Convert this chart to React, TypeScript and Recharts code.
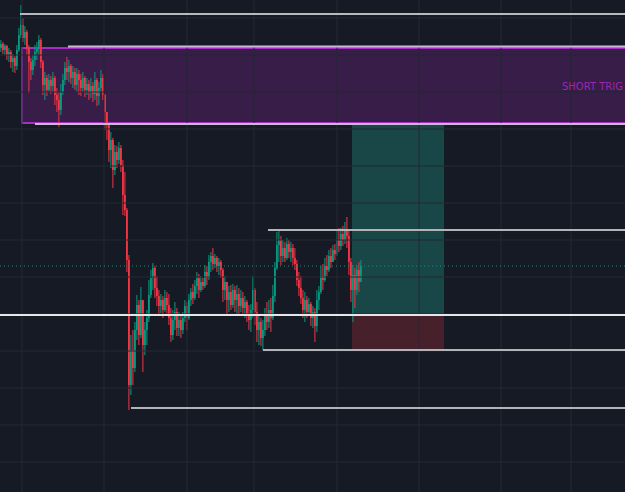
import React from "react";
import { ComposedChart, Bar, XAxis, YAxis, ReferenceLine, ReferenceArea, ReferenceDot } from "recharts";

const BG = "#161a25";
const UP = "#089981";
const DOWN = "#f23645";

const firstOpen = 452;
const closes = [
  456, 450, 454, 445, 448, 438, 442, 434, 450, 465, 475, 462, 468, 452, 438, 430, 440, 448, 452, 460,
  438, 415, 422, 410, 420, 414, 422, 405, 400, 390, 408, 420, 432, 428, 434, 422, 428, 415, 426, 420,
  412, 422, 410, 416, 408, 414, 406, 420, 404, 412, 422, 405, 388, 375, 350, 360, 330, 348, 340, 352,
  335, 305, 290, 240, 115, 150, 132, 170, 195, 165, 200, 155, 170, 182, 205, 222, 232, 212, 204, 194,
  200, 190, 202, 195, 182, 165, 180, 188, 172, 180, 170, 182, 194, 182, 200, 208, 202, 214, 222, 210,
  218, 214, 228, 222, 238, 244, 236, 242, 234, 238, 230, 210, 218, 200, 208, 195, 210, 200, 206, 194,
  202, 192, 198, 186, 180, 190, 210, 188, 170, 178, 162, 170, 184, 178, 190, 182, 204, 232, 255, 260,
  244, 252, 242, 256, 248, 252, 242, 236, 220, 212, 202, 190, 200, 188, 196, 182, 188, 174, 200, 208,
  224, 220, 234, 230, 244, 238, 250, 246, 260, 254, 266, 260, 270, 264, 238, 210, 225, 210, 230, 218,
  234,
];
const highs = [
  460, 458, 456, 455, 452, 450, 446, 444, 455, 472, 495, 482, 474, 470, 455, 442, 445, 455, 458, 465,
  462, 440, 428, 425, 426, 424, 428, 424, 412, 408, 416, 426, 438, 443, 440, 436, 434, 432, 432, 430,
  426, 428, 424, 422, 420, 422, 418, 428, 422, 418, 430, 426, 406, 388, 376, 368, 362, 355, 354, 358,
  355, 340, 328, 292, 245, 165, 170, 178, 205, 200, 213, 200, 178, 190, 220, 230, 237, 234, 224, 210,
  206, 204, 210, 208, 206, 192, 190, 198, 192, 188, 184, 188, 200, 198, 206, 212, 216, 220, 228, 226,
  224, 222, 235, 234, 245, 248, 252, 246, 244, 242, 240, 232, 224, 218, 214, 215, 216, 214, 215, 212,
  210, 208, 204, 200, 195, 196, 224, 212, 198, 185, 182, 180, 192, 198, 200, 202, 215, 238, 268, 270,
  264, 260, 258, 262, 260, 258, 256, 252, 240, 228, 224, 210, 208, 204, 202, 198, 194, 192, 210, 214,
  234, 236, 242, 245, 250, 252, 255, 256, 270, 272, 272, 274, 278, 283, 270, 242, 235, 232, 235, 238,
  240,
];
const lows = [
  448, 446, 445, 440, 438, 432, 428, 427, 430, 448, 462, 458, 455, 445, 407, 420, 425, 434, 440, 445,
  432, 405, 400, 404, 408, 406, 408, 395, 388, 373, 385, 405, 415, 420, 418, 416, 412, 410, 408, 405,
  404, 408, 403, 405, 400, 402, 398, 400, 394, 395, 408, 400, 370, 360, 338, 332, 312, 325, 332, 336,
  328, 285, 284, 228, 90, 105, 115, 128, 160, 155, 162, 128, 145, 155, 178, 202, 210, 202, 194, 185,
  187, 182, 188, 185, 175, 158, 160, 170, 164, 164, 162, 166, 178, 170, 180, 194, 196, 200, 206, 202,
  208, 210, 212, 215, 220, 228, 230, 232, 228, 225, 222, 198, 200, 185, 188, 190, 192, 188, 185, 186,
  188, 184, 182, 178, 170, 168, 182, 175, 158, 155, 154, 150, 164, 170, 172, 168, 180, 198, 230, 238,
  235, 238, 238, 240, 242, 238, 235, 230, 214, 204, 196, 182, 178, 182, 184, 174, 172, 158, 168, 190,
  206, 210, 218, 224, 228, 232, 238, 240, 244, 248, 250, 254, 256, 252, 225, 198, 178, 192, 205, 208,
  224,
];

const gridX = [10.5, 51.5, 93, 126.5, 168, 209, 250, 285];
const gridY = [482, 445, 408, 371, 334, 297, 260, 223, 186, 149, 112, 75, 38];

const X_MAX = 312;

// horizontal drawings: start index, price, colour
const levelStarts = [9.5, 33.5, 17, 133.5, -0.5, 131, 65];
const levelPrices = [486, 453.5, 376, 270, 185, 150, 92];
const levelColors = ["#b8b9bf", "#cdb9d6", "#c9b7d2", "#b2b4ba", "#e6e6e8", "#b2b4ba", "#b2b4ba"];

const triggerZone = { x1: 10.5, y1: 377, y2: 452 };
const positionX = [175.5, 221.5];
const targetPrice = 376;
const entryPrice = 185;
const stopPrice = 150;
const lastPrice = 234;
const zoneLabel = "SHORT TRIG";
const zoneLabelPos = { i: 280.5, p: 414 };

const candles = closes.map((c, i) => ({
  i,
  o: i === 0 ? firstOpen : closes[i - 1],
  c,
  h: highs[i],
  l: lows[i],
}));

const Candle = (props: any) => {
  const { x, y, width, height, payload } = props;
  if (!payload) return null;
  const { o, c, h, l } = payload;
  const top = Math.min(y, y + height);
  const bot = Math.max(y, y + height);
  const span = h - l || 1;
  const yOf = (v: number) => top + ((h - v) / span) * (bot - top);
  const cx = x + width / 2;
  const color = c >= o ? UP : DOWN;
  const bt = yOf(Math.max(o, c));
  const bb = yOf(Math.min(o, c));
  return (
    <g>
      <line x1={cx} x2={cx} y1={top} y2={bot} stroke={color} strokeWidth={1} />
      <rect x={cx - 0.9} y={bt} width={1.8} height={Math.max(1, bb - bt)} fill={color} />
    </g>
  );
};

export default function App() {
  return (
    <div style={{ position: "absolute", left: 0, top: 0, width: 625, height: 492, background: BG, overflow: "hidden" }}>
      <ComposedChart width={625} height={492} data={candles} margin={{ top: 0, right: 0, bottom: 0, left: 0 }}>
        <XAxis type="number" dataKey="i" domain={[-0.5, X_MAX]} hide allowDataOverflow />
        <YAxis type="number" domain={[8, 500]} hide allowDataOverflow />
        {gridX.map((g) => (
          <ReferenceLine key={"gx" + g} x={g} stroke="#242834" strokeWidth={1} />
        ))}
        {gridY.map((g) => (
          <ReferenceLine key={"gy" + g} y={g} stroke="#242834" strokeWidth={1} />
        ))}
        <Bar dataKey={(d: any) => [d.l, d.h]} barSize={2} shape={Candle} isAnimationActive={false} />
        <ReferenceArea
          x1={triggerZone.x1}
          x2={X_MAX + 4}
          y1={triggerZone.y1}
          y2={triggerZone.y2}
          fill="#9c27b0"
          fillOpacity={0.25}
          stroke="#a52fc4"
          strokeWidth={2}
          ifOverflow="visible"
        />
        <ReferenceArea x1={positionX[0]} x2={positionX[1]} y1={entryPrice} y2={targetPrice} fill="#22ab94" fillOpacity={0.3} stroke="none" />
        <ReferenceArea x1={positionX[0]} x2={positionX[1]} y1={stopPrice} y2={entryPrice} fill="#f23645" fillOpacity={0.22} stroke="none" />
        <ReferenceLine y={lastPrice} stroke="#1e8a80" strokeDasharray="1 3" strokeWidth={1} />
        {levelPrices.map((p, k) => (
          <ReferenceLine
            key={"lv" + k}
            segment={[
              { x: levelStarts[k], y: p },
              { x: X_MAX, y: p },
            ]}
            stroke={levelColors[k]}
            strokeWidth={2}
          />
        ))}
        <ReferenceDot
          x={zoneLabelPos.i}
          y={zoneLabelPos.p}
          r={0}
          fill="none"
          stroke="none"
          label={{
            value: zoneLabel,
            position: "right",
            offset: 0,
            fill: "#9c27b0",
            fontSize: 10,
            fontFamily: "DejaVu Sans",
          }}
        />
      </ComposedChart>
    </div>
  );
}
